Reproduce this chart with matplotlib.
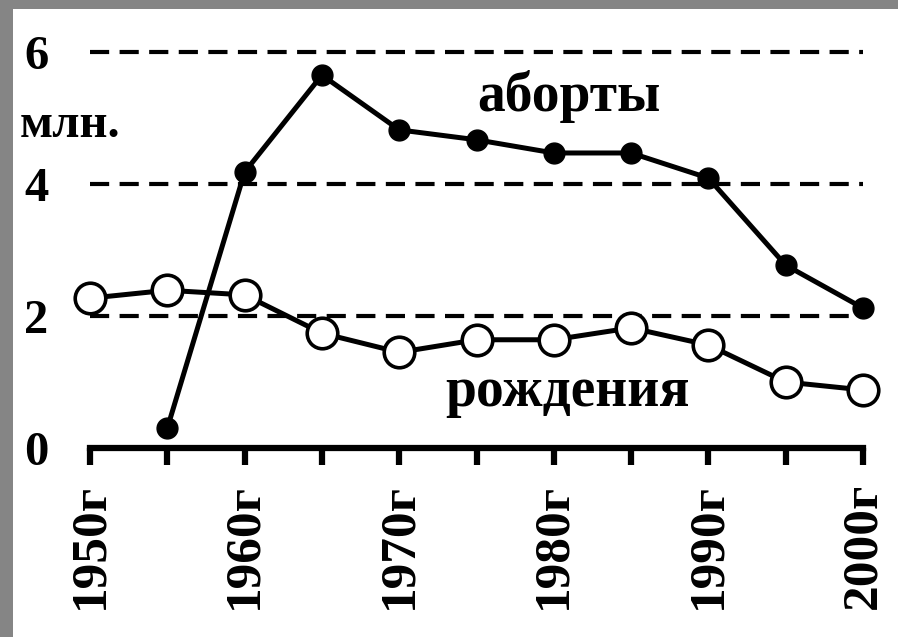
import matplotlib
matplotlib.use("Agg")
import matplotlib.pyplot as plt

# values (millions)
years = [1950, 1955, 1960, 1965, 1970, 1975, 1980, 1985, 1990, 1995, 2000]
abort_years = years[1:]
abortions = [0.3, 4.18, 5.65, 4.82, 4.67, 4.47, 4.47, 4.09, 2.77, 2.12]
births = [2.27, 2.39, 2.32, 1.74, 1.45, 1.64, 1.64, 1.82, 1.56, 1.0, 0.88]
tick_years = [1950, 1960, 1970, 1980, 1990, 2000]
tick_labels = [f"{y}г" for y in tick_years]

plt.rcParams['font.family'] = ['Liberation Serif', 'DejaVu Serif']
plt.rcParams['font.weight'] = 'bold'

fig = plt.figure(figsize=(8.98, 6.37), dpi=100, facecolor='#858585')
# white sheet behind the chart
bg = fig.add_axes([13 / 898, 0, 1 - 13 / 898, 1 - 9 / 637], zorder=-5)
bg.set_axis_off()
bg.add_patch(plt.Rectangle((0, 0), 1, 1, facecolor='white', edgecolor='none',
                           transform=bg.transAxes))

ax = fig.add_axes([90 / 898, 1 - 448 / 637, (863 - 90) / 898, (448 - 52) / 637])
ax.set_facecolor('none')

# dashed grid
for g in [2, 4, 6]:
    ax.plot([1950, 2000], [g, g], color='black', lw=3, dashes=(4.6, 2.5), zorder=1, clip_on=False)

ax.plot(abort_years, abortions, color='black', lw=3.6, marker='o', ms=15,
        mfc='black', mec='black', zorder=3, clip_on=False)
ax.plot(years, births, color='black', lw=3.6, marker='o', ms=22,
        mfc='white', mec='black', mew=2.6, zorder=4, clip_on=False)

ax.set_xlim(1950, 2000)
ax.set_ylim(0, 6)

for s in ['top', 'right', 'left']:
    ax.spines[s].set_visible(False)
ax.spines['bottom'].set_linewidth(4.5)
ax.spines['bottom'].set_capstyle('projecting')

ax.set_xticks(years, minor=True)
ax.set_xticks(tick_years)
ax.set_xticklabels(tick_labels, rotation=90, fontsize=37, fontweight='bold')
ax.tick_params(axis='x', which='both', direction='out', length=12, width=4.5, pad=13)
ax.tick_params(axis='x', which='minor', labelbottom=False)

ax.set_yticks([0, 2, 4, 6])
ax.set_yticklabels(['0', '2', '4', '6'], fontsize=35, fontweight='bold')
ax.tick_params(axis='y', length=0, pad=30)

ax.text(1981.0, 5.32, 'аборты', fontsize=40, fontweight='bold', ha='center', va='center')
ax.text(1980.9, 0.85, 'рождения', fontsize=40, fontweight='bold', ha='center', va='center')
fig.text(20 / 898, 1 - 125 / 637, 'млн.', fontsize=35, fontweight='bold', va='center', ha='left')

fig.savefig('out.png', dpi=100, facecolor=fig.get_facecolor())
